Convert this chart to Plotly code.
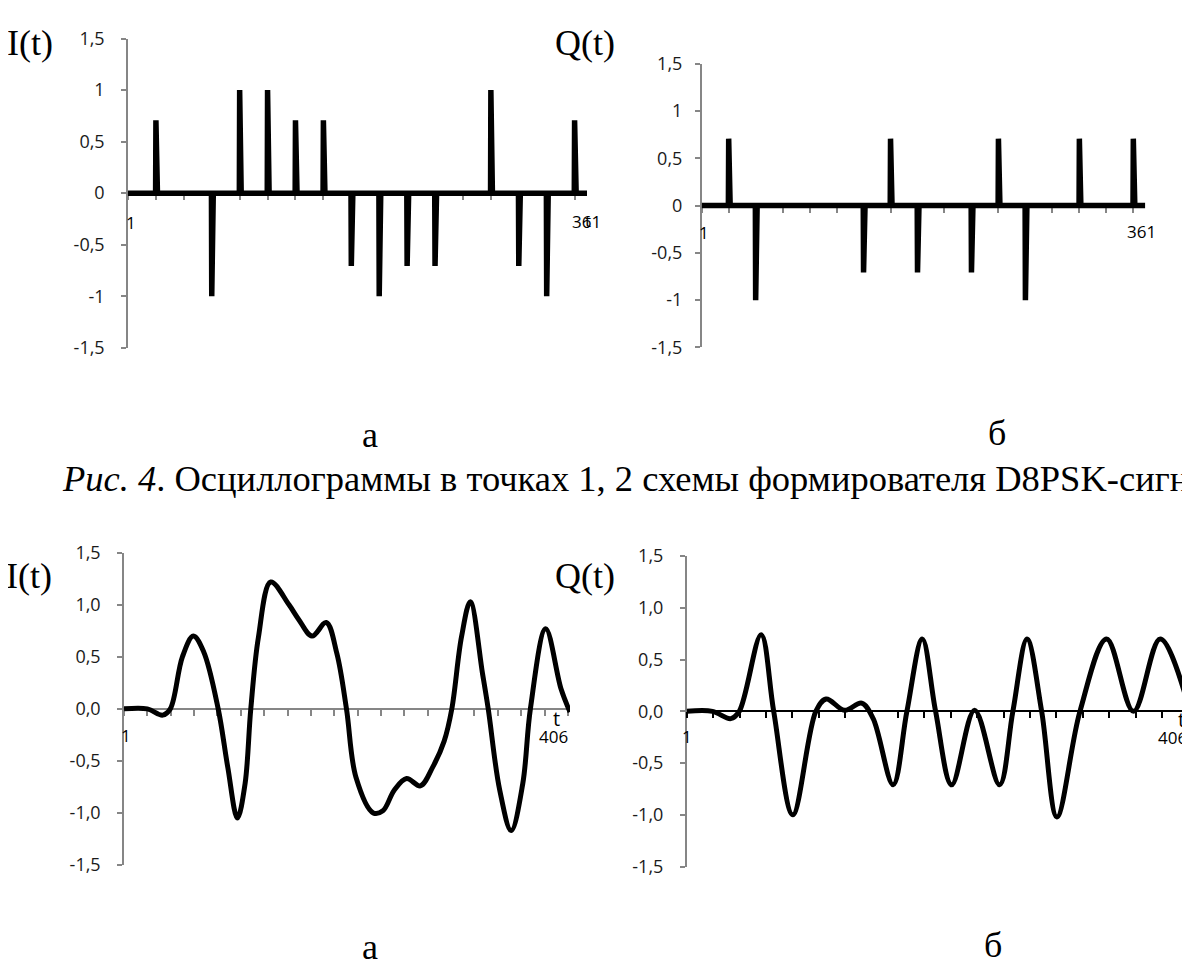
import numpy as np
import plotly.graph_objects as go

W, H = 1190, 971
OFF = 8  # default page margin of the html body (px)

# ---------------- data ----------------
samples_per_symbol = 22.5
# Fig. 4 (a) I(t) and (b) Q(t): impulse values at each symbol instant (17 instants, t = 1 + 22.5*k)
I_symbols = [0, 0.707, 0, -1, 1, 1, 0.707, 0.707, -0.707, -1, -0.707, -0.707, 0, 1, -0.707, -1, 0.707]
Q_symbols = [0, 0.707, -1, 0, 0, 0, -0.707, 0.707, -0.707, 0, -0.707, 0.707, -1, 0, 0.707, 0, 0.707]
pulse_t_end = 371

# Filtered I(t) (lower left)
I_filt_t = [1, 23, 37.4, 44.6, 56, 66.3, 76, 89.7, 98.7, 107.8, 115, 120.4, 127.6, 139.2,
            156.4, 165.5, 178.1, 191.4, 201.5, 210.5, 219.5, 235.7, 244.8, 255.6, 267.1, 280.1,
            291.7, 302.5, 309.7, 318.8, 327.1, 338.6, 344, 354.8, 365.6, 376.5, 383.7, 398.1,
            412.6, 421]
I_filt_v = [0, 0, -0.06, 0, 0.50, 0.70, 0.55, 0, -0.56, -1.05, -0.72, 0, 0.69, 1.22,
            1.0, 0.86, 0.70, 0.83, 0.53, 0, -0.66, -1.0, -0.98, -0.78, -0.67, -0.74,
            -0.56, -0.31, 0, 0.69, 1.03, 0.34, 0, -0.78, -1.17, -0.72, 0, 0.77,
            0.19, -0.03]

# Filtered Q(t) (lower right)
Q_filt_t = [1, 22.5, 37.7, 44.8, 63, 73.5, 89.4, 108.6, 117.2, 132.5, 146.8, 156.4, 173,
            184.5, 197.3, 208.4, 221.8, 240.9, 261.7, 272.8, 284.6, 296.8, 309.5, 328.7,
            350.9, 373.3, 395.6, 420.4]
Q_filt_v = [0, 0, -0.07, 0, 0.74, 0, -1.0, 0, 0.12, 0.01, 0.08, -0.07, -0.71,
            0, 0.70, 0, -0.71, 0.01, -0.71, 0, 0.70, 0, -1.02, 0,
            0.70, 0.0, 0.70, 0]

ytick_vals = [-1.5, -1, -0.5, 0, 0.5, 1, 1.5]
ytick_top = ["-1,5", "-1", "-0,5", "0", "0,5", "1", "1,5"]
ytick_bot = ["-1,5", "-1,0", "-0,5", "0,0", "0,5", "1,0", "1,5"]

STEP = 0.25


def pulse_series(symbols):
    t = np.arange(1, pulse_t_end + STEP / 2, STEP)
    v = np.zeros_like(t)
    for k, s in enumerate(symbols):
        idx = int(round(k * samples_per_symbol / STEP))
        if idx < len(v):
            v[idx] = s
    return t, v


def px(x):
    return (x - OFF) / W


def py(y):
    return 1 - (y - OFF) / H


# ---------------- layout geometry (screen pixels) ----------------
panels = {
    # name: (x_left, x_right, y_top(1.5), y_bottom(-1.5), t_max, tick_step, label_standoff)
    "tl": (128, 587, 26, 343, pulse_t_end, samples_per_symbol, 13),
    "tr": (701.7, 1145.3, 51.7, 342.7, pulse_t_end, samples_per_symbol, 9),
    "bl": (124, 570, 553.3, 873.3, 421, 22, 13),
    "br": (686.7, 1190, 556.7, 875, 420.4, 22, 13),
}
GRAY = "#868686"
TICKFONT = dict(family="Open Sans", size=18, color="#1a1a1a")
SERIF = "Liberation Serif"

fig = go.Figure()

series = {
    "tl": pulse_series(I_symbols),
    "tr": pulse_series(Q_symbols),
    "bl": (I_filt_t, I_filt_v),
    "br": (Q_filt_t, Q_filt_v),
}

for i, (name, (xl, xr, yt, yb, tmax, tstep, stand)) in enumerate(panels.items(), start=1):
    xs = "x" if i == 1 else f"x{i}"
    ys = "y" if i == 1 else f"y{i}"
    tx, ty = series[name]
    smooth = name in ("bl", "br")
    fig.add_trace(go.Scatter(
        x=tx, y=ty, mode="lines", xaxis=xs, yaxis=ys,
        line=dict(color="black", width=5.5 if not smooth else 5,
                  shape="spline" if smooth else "linear", smoothing=1.0),
        showlegend=False, hoverinfo="skip"))

    ydom = [py(yb), py(yt)]
    xdom = [px(xl), min(px(xr), 1.0)]
    zero_pos = (ydom[0] + ydom[1]) / 2
    xaxis_color = "black" if name == "br" else GRAY
    xticks = list(np.arange(1, tmax + 0.01, tstep))
    fig.layout[f"xaxis{'' if i == 1 else i}"] = dict(
        domain=xdom, range=[1, tmax], anchor="free", position=zero_pos,
        showline=True, linecolor=xaxis_color, linewidth=2,
        ticks="outside", ticklen=6, tickwidth=1.5, tickcolor=xaxis_color,
        tickvals=xticks, showticklabels=False, showgrid=False, zeroline=False,
        layer="below traces", fixedrange=True)
    fig.layout[f"yaxis{'' if i == 1 else i}"] = dict(
        domain=ydom, range=[-1.5, 1.5], anchor=xs,
        showline=True, linecolor=GRAY, linewidth=1.5,
        ticks="outside", ticklen=5, tickwidth=1.5, tickcolor=GRAY,
        tickvals=ytick_vals, ticktext=ytick_top if name in ("tl", "tr") else ytick_bot,
        tickfont=TICKFONT, ticklabelstandoff=stand,
        showgrid=False, zeroline=False, layer="below traces", fixedrange=True)

annotations = []


def txt(text, x, y, size, family, xanchor="center", color="black"):
    annotations.append(dict(text=text, x=px(x), y=py(y), xref="paper", yref="paper",
                            xanchor=xanchor, yanchor="middle", showarrow=False,
                            font=dict(family=family, size=size, color=color)))


# axis labels I(t), Q(t)
txt("I(t)", 30, 31, 36, SERIF)
txt("Q(t)", 585, 31, 36, SERIF)
txt("I(t)", 29, 577, 36, SERIF)
txt("Q(t)", 585, 577, 36, SERIF)

# x-axis category labels
tf = TICKFONT["family"]
LS = 17
txt("1", 131, 215, LS, tf)
txt("361", 586, 214, LS, tf)
txt("t", 588, 213, LS, tf)
txt("1", 704, 225, LS, tf)
txt("361", 1141, 224, LS, tf)
txt("1", 126, 741, LS, tf)
txt("406", 553, 742, LS, tf)
txt("t", 556, 723, 20, tf)
txt("1", 687, 742, LS, tf)
txt("406", 1172, 743, LS, tf)
txt("t", 1181, 724, 20, tf)

# panel letters and caption
txt("а", 370, 432, 36, SERIF)
txt("б", 997, 430, 36, SERIF)
txt("<i>Рис. 4</i>. Осциллограммы в точках 1, 2 схемы формирователя D8PSK-сигнала.",
    60, 477, 36.5, SERIF, xanchor="left")
txt("а", 370, 957, 36, SERIF)
txt("б", 993, 955, 36, SERIF)

fig.update_layout(
    width=W, height=H, margin=dict(l=0, r=0, t=0, b=0),
    paper_bgcolor="white", plot_bgcolor="white",
    annotations=annotations, showlegend=False)

fig.write_html("out.html")
